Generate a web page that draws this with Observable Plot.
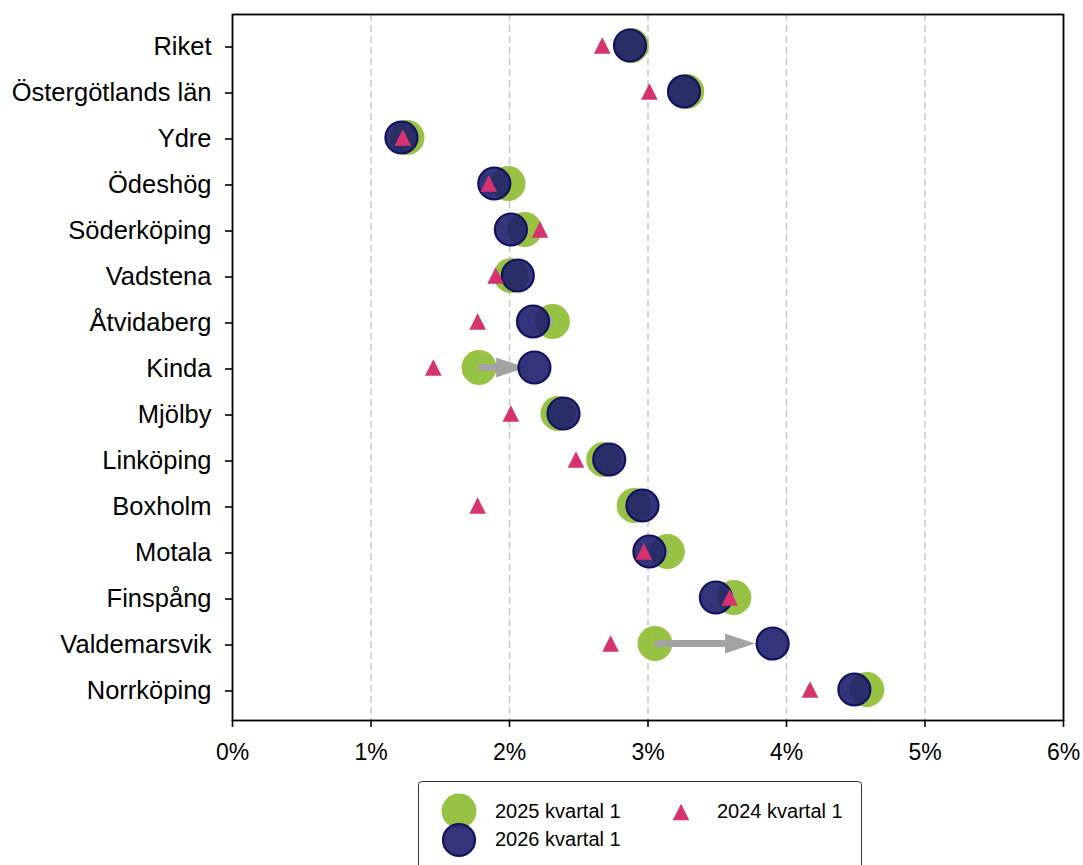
<!DOCTYPE html>
<html>
<head>
<meta charset="utf-8">
<script src="https://cdn.jsdelivr.net/npm/d3@7"></script>
<script src="https://cdn.jsdelivr.net/npm/@observablehq/plot@0.6"></script>
<style>
  html, body { margin: 0; padding: 0; background: #fff; }
  body { font-family: "Liberation Sans", Arial, sans-serif; width: 1083px; overflow: hidden; }
  #legend { position: relative; margin-left: 418px; margin-top: 11px; width: 444px; height: 100px;
            border: 1.6px solid #333; border-radius: 4px; box-sizing: border-box; }
  #legend svg { position: absolute; left: 0; top: 0; }
</style>
</head>
<body>
<div id="chart"></div>
<div id="legend"></div>
<script>
// ---- data ----
const categories = ["Riket", "Östergötlands län", "Ydre", "Ödeshög", "Söderköping", "Vadstena", "Åtvidaberg", "Kinda", "Mjölby", "Linköping", "Boxholm", "Motala", "Finspång", "Valdemarsvik", "Norrköping"];
const values2024 = [2.67, 3.01, 1.23, 1.85, 2.22, 1.90, 1.77, 1.45, 2.01, 2.48, 1.77, 2.97, 3.59, 2.73, 4.17];
const values2025 = [2.88, 3.28, 1.26, 1.99, 2.11, 2.01, 2.31, 1.78, 2.35, 2.68, 2.90, 3.14, 3.62, 3.05, 4.58];
const values2026 = [2.87, 3.26, 1.22, 1.89, 2.01, 2.06, 2.17, 2.18, 2.39, 2.72, 2.96, 3.01, 3.49, 3.90, 4.49];
const seriesNames = ["2025 kvartal 1", "2026 kvartal 1", "2024 kvartal 1"];
const xTicks = [0, 1, 2, 3, 4, 5, 6];
const xTickLabels = ["0%", "1%", "2%", "3%", "4%", "5%", "6%"];

// ---- styling ----
const W = 1083, H = 770, ML = 232, MR = 20, MT = 14, MB = 50;
const GREEN = "#8fbd33", NAVY = "#1e1e6b", NAVY_STROKE = "#12125e", PINK = "#d4336f", ARROW = "#a3a3a3";
const ppu = (W - ML - MR) / (xTicks[xTicks.length - 1] - xTicks[0]);

const rows = categories.map((c, i) => ({c, a: values2024[i], b: values2025[i], n: values2026[i]}));
const arrows = rows.map(r => {
  const d = r.n - r.b;
  const sgn = d >= 0 ? 1 : -1;
  const tip = r.b + 0.85 * d;
  const lenPx = Math.abs(tip - r.b) * ppu;
  const hl = Math.max(5, Math.min(30, lenPx));
  return {...r, tip, sgn, hl, lenPx, shaftEnd: tip - sgn * hl * 0.85 / ppu};
});

const rightHead = {draw(ctx, size) { const L = Math.sqrt(size / Math.PI), w = L / 3;
  ctx.moveTo(0, 0); ctx.lineTo(-L, -w); ctx.lineTo(-L, w); ctx.closePath(); }};
const leftHead = {draw(ctx, size) { const L = Math.sqrt(size / Math.PI), w = L / 3;
  ctx.moveTo(0, 0); ctx.lineTo(L, -w); ctx.lineTo(L, w); ctx.closePath(); }};
const triUp = {draw(ctx, size) { const h = Math.sqrt(size / Math.PI);
  ctx.moveTo(0, -h); ctx.lineTo(h, h); ctx.lineTo(-h, h); ctx.closePath(); }};

const chart = Plot.plot({
  width: W, height: H,
  marginLeft: ML, marginRight: MR, marginTop: MT, marginBottom: MB,
  style: {fontFamily: "Liberation Sans, Arial, sans-serif", background: "#fff", color: "#000"},
  x: {domain: [xTicks[0], xTicks[xTicks.length - 1]]},
  y: {type: "point", domain: categories, padding: 0.55},
  r: {type: "linear", domain: [0, 100], range: [0, 100]},
  marks: [
    Plot.gridX(xTicks.slice(1, -1), {stroke: "#c8c8c8", strokeOpacity: 1, strokeWidth: 1.5, strokeDasharray: "7,4"}),
    Plot.dot(rows, {x: "b", y: "c", r: 17.5, fill: GREEN, fillOpacity: 0.92, stroke: "none"}),
    Plot.ruleY(arrows.filter(d => d.lenPx > d.hl), {y: "c", x1: "b", x2: "shaftEnd", stroke: ARROW, strokeWidth: 7}),
    Plot.dot(arrows.filter(d => d.sgn > 0), {x: "tip", y: "c", r: "hl", symbol: rightHead, fill: ARROW, stroke: "none"}),
    Plot.dot(arrows.filter(d => d.sgn < 0), {x: "tip", y: "c", r: "hl", symbol: leftHead, fill: ARROW, stroke: "none"}),
    Plot.dot(rows, {x: "n", y: "c", r: 16, fill: NAVY, fillOpacity: 0.9, stroke: NAVY_STROKE, strokeWidth: 2.2}),
    Plot.dot(rows, {x: "a", y: "c", r: 8.3, symbol: triUp, fill: PINK, stroke: "none"}),
    Plot.axisY({tickSize: 7, tickPadding: 14, fontSize: 25.5, strokeWidth: 1.6, label: null, dy: 1.5}),
    Plot.axisX(xTicks, {tickSize: 7, tickPadding: 16, fontSize: 23, strokeWidth: 1.6, label: null,
      tickFormat: d => xTickLabels[xTicks.indexOf(d)]}),
    Plot.frame({stroke: "#000", strokeWidth: 1.8})
  ]
});
document.getElementById("chart").appendChild(chart);

// ---- legend ----
const lg = d3.select("#legend").append("svg").attr("width", 444).attr("height", 100)
  .style("font-family", "Liberation Sans, Arial, sans-serif");
lg.append("circle").attr("cx", 40).attr("cy", 29).attr("r", 17.5).attr("fill", GREEN).attr("fill-opacity", 0.92);
lg.append("circle").attr("cx", 40).attr("cy", 58).attr("r", 16).attr("fill", NAVY).attr("fill-opacity", 0.9)
  .attr("stroke", NAVY_STROKE).attr("stroke-width", 2.2);
lg.append("path").attr("transform", "translate(262,30)").attr("d", d3.symbol(triUp, Math.PI * 8.3 * 8.3)()).attr("fill", PINK);
const legendText = [[76, 35.5, seriesNames[0]], [76, 64, seriesNames[1]], [298, 35.5, seriesNames[2]]];
legendText.forEach(([x, y, t]) => lg.append("text").attr("x", x).attr("y", y).attr("font-size", 20).attr("fill", "#000").text(t));
</script>
</body>
</html>
